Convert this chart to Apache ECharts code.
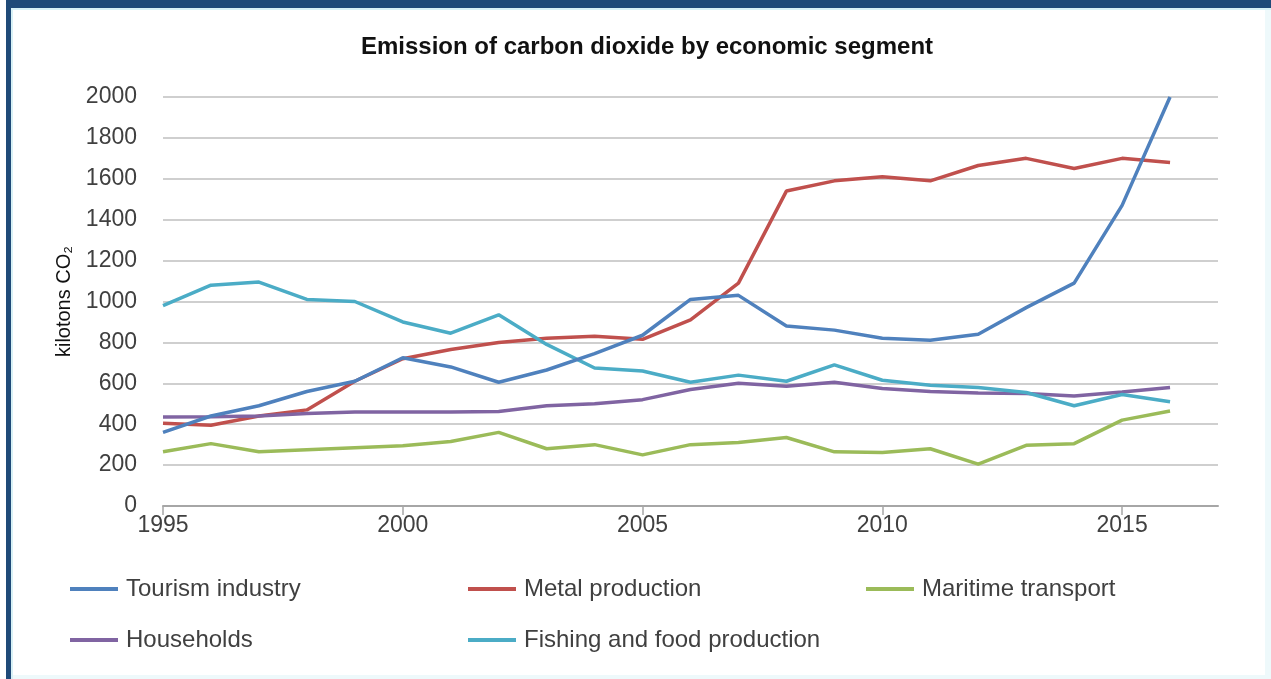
<!DOCTYPE html>
<html>
<head>
<meta charset="utf-8">
<script src="https://cdn.jsdelivr.net/npm/echarts@6/dist/echarts.min.js"></script>
<style>
html,body{margin:0;padding:0;background:#ffffff;}
#chart{width:1271px;height:679px;}
</style>
</head>
<body>
<div id="chart"></div>
<script>
var years = ['1995','1996','1997','1998','1999','2000','2001','2002','2003','2004','2005','2006','2007','2008','2009','2010','2011','2012','2013','2014','2015','2016','2017'];
var seriesNames = ['Tourism industry','Metal production','Maritime transport','Households','Fishing and food production'];
var tourism  = [360, 440, 490, 560, 610, 725, 680, 605, 665, 745, 835, 1010, 1030, 880, 860, 820, 810, 840, 970, 1090, 1470, 2000];
var metal    = [405, 395, 440, 470, 610, 720, 765, 800, 820, 830, 815, 910, 1090, 1540, 1590, 1610, 1590, 1665, 1700, 1650, 1700, 1680];
var maritime = [265, 305, 265, 275, 285, 295, 315, 360, 280, 300, 250, 300, 310, 335, 265, 262, 280, 205, 297, 305, 420, 465];
var households = [435, 437, 440, 452, 460, 460, 460, 462, 490, 500, 520, 570, 600, 585, 605, 575, 560, 552, 550, 538, 558, 580];
var fishing  = [980, 1080, 1095, 1010, 1000, 900, 845, 935, 790, 675, 660, 605, 640, 610, 690, 615, 590, 580, 555, 490, 545, 510];
var yTicks = { min: 0, max: 2000, step: 200 };
var colors = ['#4F81BD', '#C0504D', '#9BBB59', '#8064A2', '#4BACC6'];

var chart = echarts.init(document.getElementById('chart'), null, {renderer: 'canvas'});
var dataSets = [tourism, metal, maritime, households, fishing];
var legendPos = [[70, 577], [468, 577], [866, 577], [70, 628], [468, 628]];

var legends = seriesNames.map(function (n, i) {
  return {
    data: [n],
    left: legendPos[i][0],
    top: legendPos[i][1],
    padding: 0,
    icon: 'rect',
    itemWidth: 48,
    itemHeight: 4,
    selectedMode: false,
    textStyle: { fontFamily: 'Liberation Sans', fontSize: 24, color: '#404040', padding: [0, 0, 0, 3] }
  };
});

var option = {
  backgroundColor: '#ffffff',
  animation: false,
  color: colors,
  title: {
    text: 'Emission of carbon dioxide by economic segment',
    left: 642,
    top: 30,
    textAlign: 'center',
    textStyle: { fontFamily: 'Liberation Sans', fontWeight: 'bold', fontSize: 24, color: '#111111' }
  },
  graphic: [
    { type: 'rect', left: 6, top: 0, shape: { width: 1265, height: 8 }, style: { fill: '#1F4A78' }, z: 100 },
    { type: 'rect', left: 6, top: 0, shape: { width: 5, height: 679 }, style: { fill: '#1F4A78' }, z: 100 },
    { type: 'rect', left: 11, top: 8, shape: { width: 1260, height: 2 }, style: { fill: '#d8f1f6' }, z: 100 },
    { type: 'rect', left: 11, top: 8, shape: { width: 2, height: 671 }, style: { fill: '#d8f1f6' }, z: 100 },
    { type: 'rect', left: 1265, top: 8, shape: { width: 6, height: 671 }, style: { fill: '#eef9fb' }, z: 1 },
    { type: 'rect', left: 11, top: 675, shape: { width: 1260, height: 4 }, style: { fill: '#eef9fb' }, z: 1 }
  ],
  legend: legends,
  grid: { left: 163, right: 53, top: 97, bottom: 173, containLabel: false },
  xAxis: {
    type: 'category',
    data: years,
    boundaryGap: false,
    axisLine: { show: true, lineStyle: { color: '#a6a6a6', width: 2 } },
    axisTick: { show: true, interval: 4, length: 9, lineStyle: { color: '#a6a6a6', width: 1.5 } },
    axisLabel: { interval: 4, margin: 8, fontFamily: 'Liberation Sans', fontSize: 23, color: '#404040' },
    splitLine: { show: false }
  },
  yAxis: {
    type: 'value',
    min: yTicks.min,
    max: yTicks.max,
    interval: yTicks.step,
    name: 'kilotons CO\u2082',
    nameLocation: 'middle',
    nameRotate: 90,
    nameGap: 88,
    nameTextStyle: { fontFamily: 'Liberation Sans', fontSize: 20, color: '#111111' },
    axisLine: { show: false },
    axisTick: { show: false },
    axisLabel: {
      margin: 26, fontFamily: 'Liberation Sans', fontSize: 23, color: '#404040',
      formatter: function (v) { return String(v); }
    },
    splitLine: { show: true, lineStyle: { color: '#cfcfcf', width: 2 } }
  },
  series: seriesNames.map(function (n, i) {
    return {
      name: n,
      type: 'line',
      data: dataSets[i],
      symbol: 'none',
      smooth: false,
      lineStyle: { width: 3.5, color: colors[i] },
      itemStyle: { color: colors[i] },
      z: 2 + (i === 0 ? 1 : 0)
    };
  })
};
chart.setOption(option);
</script>
</body>
</html>
